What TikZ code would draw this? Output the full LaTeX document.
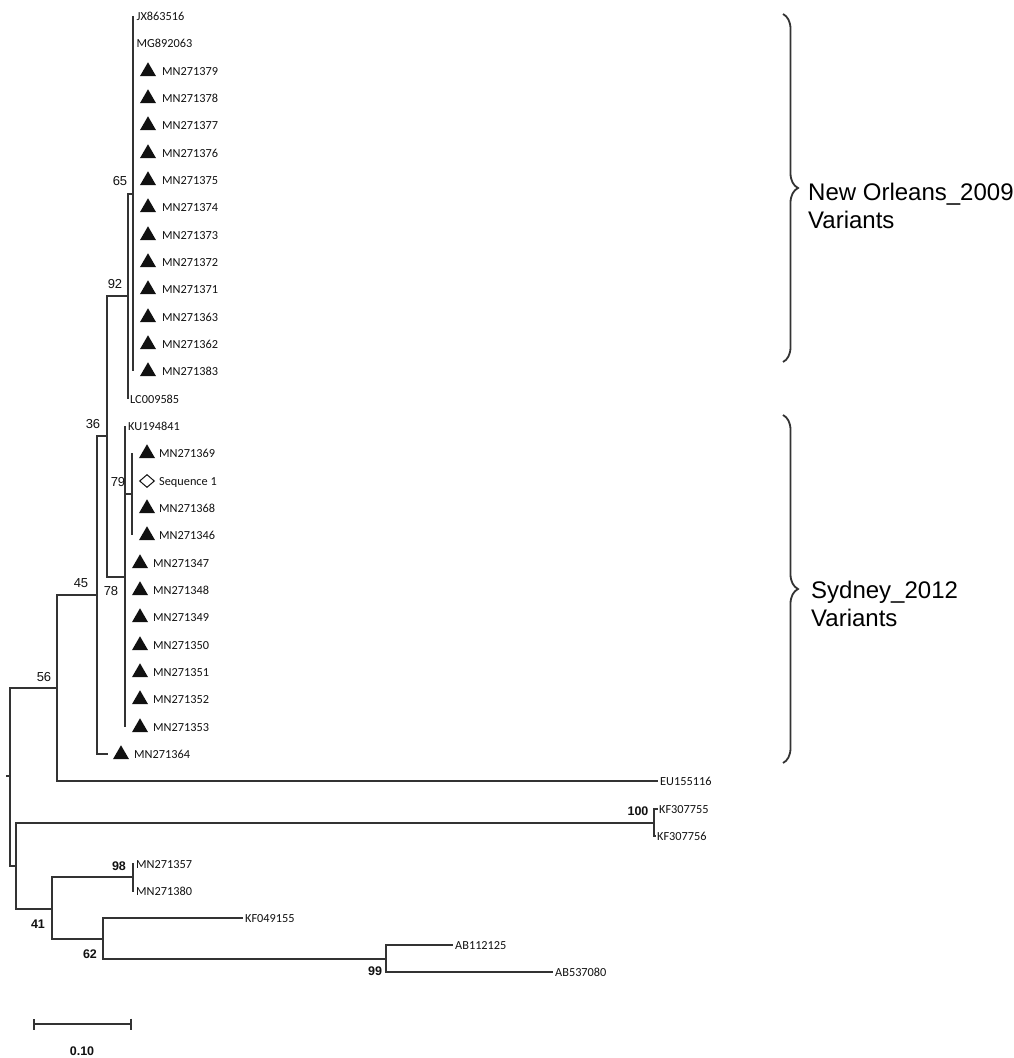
\documentclass[tikz,border=0pt]{standalone}
\usepackage{fontspec}
\setmainfont{Carlito}
\newfontfamily\arialf{Liberation Sans}
\usetikzlibrary{arrows.meta,shapes.geometric,decorations.pathreplacing}
\definecolor{rama}{HTML}{333333}
\definecolor{tinta}{HTML}{111111}

\begin{document}
\begin{tikzpicture}[x=1pt,y=-1pt,
  brazo/.style={draw=rama,line width=2pt},
  hoja/.style={anchor=west,inner sep=0pt,text height=8pt,text depth=0pt,font=\fontsize{12.3}{14}\selectfont,text=tinta},
  boot/.style={inner sep=0pt,font=\arialf\fontsize{13}{14}\selectfont,text=tinta},
  bootb/.style={inner sep=0pt,font=\arialf\bfseries\fontsize{12.5}{14}\selectfont,text=tinta},
  tri/.style={regular polygon,regular polygon sides=3,fill=tinta,minimum size=18.5pt,inner sep=0pt},
  rombo/.style={diamond,draw=tinta,line width=1pt,minimum width=15pt,minimum height=13pt,inner sep=0pt},
  llave/.style={draw=rama,line width=1.8pt,decorate,decoration={brace,amplitude=15pt}},
  grupo/.style={anchor=west,align=left,inner sep=0pt,font=\arialf\fontsize{24}{28}\selectfont}]

\useasboundingbox (0,0) rectangle (1013,1058);

\coordinate (n65) at (133,193.5);
\coordinate (n92) at (128,296);
\coordinate (n36) at (107,436);
\coordinate (n78) at (125,576.5);
\coordinate (n79) at (132,494);
\coordinate (n45) at (97,595);
\coordinate (n56) at (57,688);
\coordinate (raiz) at (10,776);
\coordinate (raiz0) at (6,776);
\coordinate (nB) at (16,865.5);
\coordinate (n100) at (654,822.5);
\coordinate (n41) at (52,908.5);
\coordinate (n98) at (133,876.5);
\coordinate (n62) at (103,938.5);
\coordinate (n99) at (386,958.5);

\foreach \acc/\yy in {JX863516/16,MG892063/43} {
  \coordinate (t\acc) at (133,\yy);
  \node[hoja] (l\acc) at (136.5,\yy) {\acc};
  \draw[brazo] (n65) |- (t\acc);
}
\foreach \acc/\yy in {MN271379/71,MN271378/98,MN271377/125,MN271376/153,MN271375/180,MN271374/207,MN271373/235,MN271372/262,MN271371/289,MN271363/317,MN271362/344,MN271383/371} {
  \coordinate (t\acc) at (133,\yy);
  \node[tri] (m\acc) at (148,\yy+0.5) {};
  \node[hoja] (l\acc) at (162,\yy) {\acc};
  \draw[brazo] (n65) |- (t\acc);
}
\coordinate (tLC009585) at (128,399);
\node[hoja] (lLC009585) at (130,399) {LC009585};
\draw[brazo] (n92) |- (n65);
\draw[brazo] (n92) |- (tLC009585);
\draw[brazo] (n36) |- (n92);
\draw[brazo] (n36) |- (n78);

\coordinate (tKU194841) at (125,426);
\node[hoja] (lKU194841) at (128,426) {KU194841};
\draw[brazo] (n78) |- (tKU194841);
\draw[brazo] (n78) |- (n79);
\foreach \acc/\yy in {MN271369/453,MN271368/508,MN271346/535} {
  \coordinate (t\acc) at (132,\yy);
  \node[tri] (m\acc) at (147,\yy+0.5) {};
  \node[hoja] (l\acc) at (159,\yy) {\acc};
  \draw[brazo] (n79) |- (t\acc);
}
\coordinate (tSeq1) at (132,481);
\node[rombo] (mSeq1) at (147,481) {};
\node[hoja] (lSeq1) at (159,481) {Sequence 1};
\draw[brazo] (n79) |- (tSeq1);
\foreach \acc/\yy in {MN271347/563,MN271348/590,MN271349/617,MN271350/645,MN271351/672,MN271352/699,MN271353/727} {
  \coordinate (t\acc) at (125,\yy);
  \node[tri] (m\acc) at (140,\yy+0.5) {};
  \node[hoja] (l\acc) at (153,\yy) {\acc};
  \draw[brazo] (n78) |- (t\acc);
}

\coordinate (tMN271364) at (108,754);
\node[tri] (mMN271364) at (121,754.5) {};
\node[hoja] (lMN271364) at (134,754) {MN271364};
\draw[brazo] (n45) |- (n36);
\draw[brazo] (n45) |- (tMN271364);

\coordinate (tEU155116) at (658,781);
\node[hoja] (lEU155116) at (660,781) {EU155116};
\draw[brazo] (n56) |- (n45);
\draw[brazo] (n56) |- (tEU155116);
\draw[brazo] (raiz0) -- (raiz);
\draw[brazo] (raiz) |- (n56);
\draw[brazo] (raiz) |- (nB);

\coordinate (tKF307755) at (658,809);
\coordinate (tKF307756) at (656,836);
\node[hoja] (lKF307755) at (659,809) {KF307755};
\node[hoja] (lKF307756) at (657,836) {KF307756};
\draw[brazo] (nB) |- (n100);
\draw[brazo] (n100) |- (tKF307755);
\draw[brazo] (n100) |- (tKF307756);

\draw[brazo] (nB) |- (n41);
\draw[brazo] (n41) |- (n98);
\draw[brazo] (n41) |- (n62);
\foreach \acc/\yy in {MN271357/864,MN271380/891} {
  \coordinate (t\acc) at (134,\yy);
  \node[hoja] (l\acc) at (136,\yy) {\acc};
  \draw[brazo] (n98) |- (t\acc);
}
\coordinate (tKF049155) at (243,918);
\node[hoja] (lKF049155) at (245,918) {KF049155};
\draw[brazo] (n62) |- (tKF049155);
\draw[brazo] (n62) |- (n99);
\coordinate (tAB112125) at (453,945);
\coordinate (tAB537080) at (553,972);
\node[hoja] (lAB112125) at (455,945) {AB112125};
\node[hoja] (lAB537080) at (555,972) {AB537080};
\draw[brazo] (n99) |- (tAB112125);
\draw[brazo] (n99) |- (tAB537080);

\foreach \v/\x/\yy in {65/120/181,92/115/284,36/93/424,79/118/482,78/111/591,45/81/583,56/44/677}
  \node[boot] (b\v) at (\x,\yy) {\v};
\foreach \v/\x/\yy in {100/638/811,98/119/866,41/38/924,62/90/954,99/375/971}
  \node[bootb] (b\v) at (\x,\yy) {\v};

\coordinate (e1) at (33,1024);
\coordinate (e2) at (132,1024);
\draw[brazo,{Bar[width=11pt]}-{Bar[width=11pt]}] (e1) -- (e2);
\node[bootb] (escala) at (82,1051) {0.10};

\coordinate (s1) at (783,14);
\coordinate (s2) at (783,362);
\draw[llave] (s1) -- (s2);
\node[grupo] (gNO) at (808,205.5) {New Orleans\_2009\\Variants};
\coordinate (s3) at (783,415);
\coordinate (s4) at (783,763);
\draw[llave] (s3) -- (s4);
\node[grupo] (gSY) at (811,604) {Sydney\_2012\\Variants};

\end{tikzpicture}
\end{document}
